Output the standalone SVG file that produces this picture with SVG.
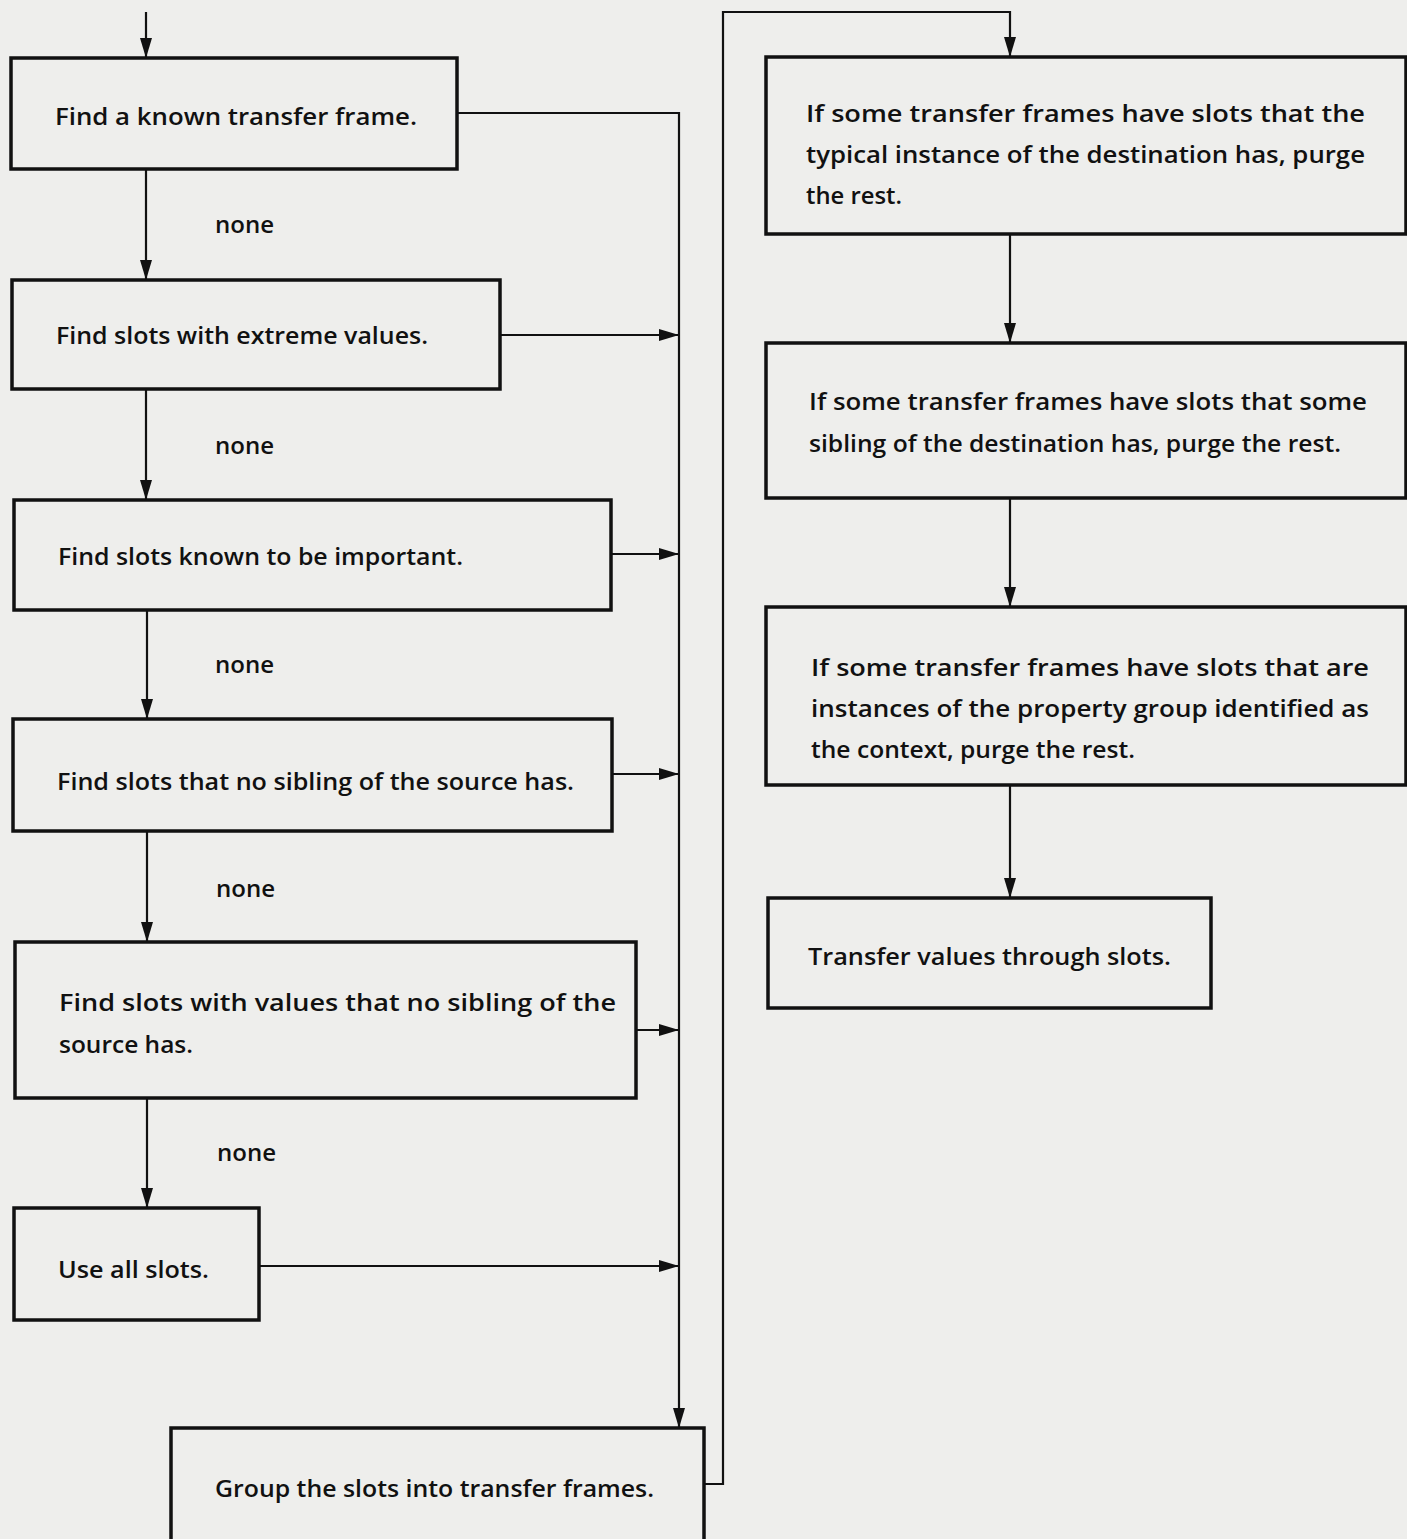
<svg xmlns="http://www.w3.org/2000/svg" width="1407" height="1539" viewBox="0 0 1407 1539">
<defs>
<marker id="arr" markerUnits="userSpaceOnUse" markerWidth="22" markerHeight="16" refX="20" refY="8" orient="auto">
<path d="M0,2 L20,8 L0,14 Z" fill="#111"/>
</marker>
<style>
.box{fill:none;stroke:#111;stroke-width:3.5}
.ln{fill:none;stroke:#111;stroke-width:2.2}
.arr{marker-end:url(#arr)}
text{font-family:"Open Sans","Liberation Sans",sans-serif;font-weight:600;font-size:24px;fill:#111}
</style>
</defs>
<rect width="1407" height="1539" fill="#eeeeec"/>
<g id="connectors">
<path class="ln arr" d="M146,12 V58"/>
<path class="ln arr" d="M146,169 V280"/>
<path class="ln arr" d="M146,389 V500"/>
<path class="ln arr" d="M147,610 V719"/>
<path class="ln arr" d="M147,831 V942"/>
<path class="ln arr" d="M147,1098 V1208"/>
<path class="ln arr" d="M457,113 H679 V1428"/>
<path class="ln arr" d="M500,335 H679"/>
<path class="ln arr" d="M611,554 H679"/>
<path class="ln arr" d="M612,774 H679"/>
<path class="ln arr" d="M636,1030 H679"/>
<path class="ln arr" d="M259,1266 H679"/>
<path class="ln arr" d="M704,1484 H723 V12 H1010 V57"/>
<path class="ln arr" d="M1010,234 V343"/>
<path class="ln arr" d="M1010,498 V607"/>
<path class="ln arr" d="M1010,785 V898"/>
</g>
<g id="labels">
<text x="215" y="233" textLength="59" lengthAdjust="spacingAndGlyphs">none</text>
<text x="215" y="454" textLength="59" lengthAdjust="spacingAndGlyphs">none</text>
<text x="215" y="673" textLength="59" lengthAdjust="spacingAndGlyphs">none</text>
<text x="216" y="897" textLength="59" lengthAdjust="spacingAndGlyphs">none</text>
<text x="217" y="1161" textLength="59" lengthAdjust="spacingAndGlyphs">none</text>
</g>
<g id="n1">
<rect class="box" x="11" y="58" width="446" height="111"/>
<text x="55" y="125" textLength="362" lengthAdjust="spacingAndGlyphs">Find a known transfer frame.</text>
</g>
<g id="n2">
<rect class="box" x="12" y="280" width="488" height="109"/>
<text x="56" y="344" textLength="372" lengthAdjust="spacingAndGlyphs">Find slots with extreme values.</text>
</g>
<g id="n3">
<rect class="box" x="14" y="500" width="597" height="110"/>
<text x="58" y="565" textLength="405" lengthAdjust="spacingAndGlyphs">Find slots known to be important.</text>
</g>
<g id="n4">
<rect class="box" x="13" y="719" width="599" height="112"/>
<text x="57" y="790" textLength="517" lengthAdjust="spacingAndGlyphs">Find slots that no sibling of the source has.</text>
</g>
<g id="n5">
<rect class="box" x="15" y="942" width="621" height="156"/>
<text x="59" y="1011" textLength="557" lengthAdjust="spacingAndGlyphs">Find slots with values that no sibling of the</text>
<text x="59" y="1053" textLength="134" lengthAdjust="spacingAndGlyphs">source has.</text>
</g>
<g id="n6">
<rect class="box" x="14" y="1208" width="245" height="112"/>
<text x="58" y="1278" textLength="151" lengthAdjust="spacingAndGlyphs">Use all slots.</text>
</g>
<g id="n7">
<rect class="box" x="171" y="1428" width="533" height="114"/>
<text x="215" y="1497" textLength="439" lengthAdjust="spacingAndGlyphs">Group the slots into transfer frames.</text>
</g>
<g id="r1">
<rect class="box" x="766" y="57" width="640" height="177"/>
<text x="806" y="122" textLength="559" lengthAdjust="spacingAndGlyphs">If some transfer frames have slots that the</text>
<text x="806" y="163" textLength="559" lengthAdjust="spacingAndGlyphs">typical instance of the destination has, purge</text>
<text x="806" y="204" textLength="96" lengthAdjust="spacingAndGlyphs">the rest.</text>
</g>
<g id="r2">
<rect class="box" x="766" y="343" width="640" height="155"/>
<text x="809" y="410" textLength="558" lengthAdjust="spacingAndGlyphs">If some transfer frames have slots that some</text>
<text x="809" y="452" textLength="532" lengthAdjust="spacingAndGlyphs">sibling of the destination has, purge the rest.</text>
</g>
<g id="r3">
<rect class="box" x="766" y="607" width="640" height="178"/>
<text x="811" y="676" textLength="558" lengthAdjust="spacingAndGlyphs">If some transfer frames have slots that are</text>
<text x="811" y="717" textLength="558" lengthAdjust="spacingAndGlyphs">instances of the property group identified as</text>
<text x="811" y="758" textLength="324" lengthAdjust="spacingAndGlyphs">the context, purge the rest.</text>
</g>
<g id="r4">
<rect class="box" x="768" y="898" width="443" height="110"/>
<text x="808" y="965" textLength="363" lengthAdjust="spacingAndGlyphs">Transfer values through slots.</text>
</g>
</svg>
